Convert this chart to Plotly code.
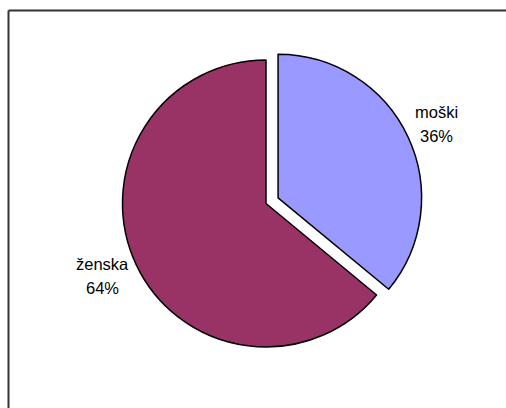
import plotly.graph_objects as go

# Gender split
labels = ["moški", "ženska"]
values = [36, 64]
colors = ["#9999FF", "#993366"]
pulls = [0.093, 0]

total = sum(values)
percents = [round(100 * v / total) for v in values]

fig = go.Figure(
    go.Pie(
        labels=labels,
        values=values,
        sort=False,
        direction="clockwise",
        rotation=0,
        pull=pulls,
        marker=dict(colors=colors, line=dict(color="#000000", width=1.5)),
        textinfo="none",
        hoverinfo="label+percent",
        showlegend=False,
        domain=dict(x=[0.2157, 0.8357], y=[0.1168, 0.8857]),
    )
)

# label anchors (paper coords) for each slice: name line above percent line
label_pos = {"moški": (436 / 506, 1 - 112 / 408), "ženska": (102 / 506, 1 - 264 / 408)}
line_gap = 24 / 408
font = dict(family="Liberation Sans, Arial, sans-serif", size=16.5, color="#000000")
annotations = []
for name, pct in zip(labels, percents):
    x, y = label_pos[name]
    annotations.append(dict(x=x, y=y, xref="paper", yref="paper", text=name,
                            showarrow=False, font=font, xanchor="center", yanchor="middle"))
    annotations.append(dict(x=x, y=y - line_gap, xref="paper", yref="paper", text=f"{pct}%",
                            showarrow=False, font=font, xanchor="center", yanchor="middle"))

# chart frame: only its top and left edges fall inside the page
fx, fy = 8.5 / 506, 1 - 10.5 / 408
frame = dict(color="#333333", width=2)
fig.update_layout(
    width=506,
    height=408,
    margin=dict(l=0, r=0, t=0, b=0),
    paper_bgcolor="#FFFFFF",
    plot_bgcolor="#FFFFFF",
    annotations=annotations,
    shapes=[
        dict(type="line", xref="paper", yref="paper", x0=fx, x1=1, y0=fy, y1=fy, line=frame),
        dict(type="line", xref="paper", yref="paper", x0=fx, x1=fx, y0=0, y1=fy, line=frame),
    ],
)

fig.write_html("out.html", config={"displayModeBar": False})
